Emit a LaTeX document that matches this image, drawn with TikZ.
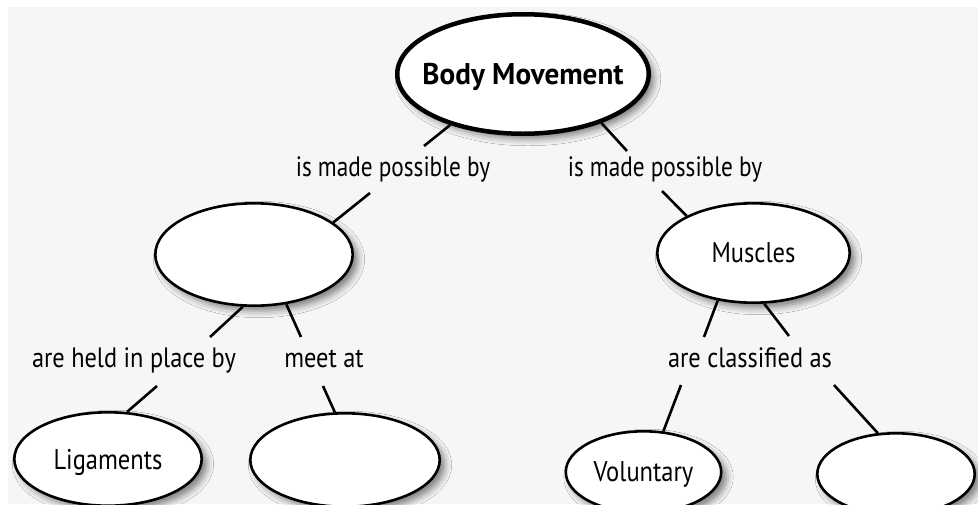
\documentclass[tikz,border=0pt]{standalone}
\usepackage{fontspec}
\setmainfont{PT Sans}
\newfontfamily\lblfont{PT Sans}[FakeStretch=0.87]
\newfontfamily\lblnarrow{PT Sans}[FakeStretch=0.83]
\newfontfamily\nodefont{PT Sans}[FakeStretch=0.86]
\newfontfamily\ttlfont{PT Sans}[FakeStretch=0.97]
\usetikzlibrary{shapes.geometric,shadows.blur}
\definecolor{bgcol}{HTML}{F6F6F6}
\begin{document}
\begin{tikzpicture}[x=1pt,y=-1pt,
  concept/.style={ellipse, draw=black, line width=2.6pt, fill=white, inner sep=0pt,
    font={\nodefont\fontsize{28.5}{30}\selectfont}, text depth=0pt,
    blur shadow={shadow xshift=5pt, shadow yshift=-5pt, shadow blur radius=7pt, shadow opacity=50}},
  titlenode/.style={concept, line width=4.5pt, font={\ttlfont\bfseries\fontsize{30}{32}\selectfont}},
  linklabel/.style={anchor=base, inner sep=0pt, font={\lblfont\fontsize{28}{30}\selectfont}},
  narrowlabel/.style={linklabel, font={\lblnarrow\fontsize{28}{30}\selectfont}},
  conn/.style={line width=2.6pt, black}]
\useasboundingbox (0,0) rectangle (978,504);
\clip (0,0) rectangle (978,504);
\fill[white] (0,0) rectangle (978,504);
\fill[bgcol] (8,7) rectangle (978,504);

% concept nodes
\node[titlenode, minimum width=251.5pt, minimum height=119.5pt] (body) at (523,74) {\makebox[0pt]{Body Movement}};
\node[concept, minimum width=197.4pt, minimum height=102.4pt] (left) at (254,254.5) {};
\node[concept, minimum width=192.4pt, minimum height=99.4pt] (muscles) at (753.5,253) {\makebox[0pt]{Muscles}};
\node[concept, minimum width=187.4pt, minimum height=93.4pt] (lig) at (108,459) {\makebox[0pt]{Ligaments}};
\node[concept, minimum width=189.4pt, minimum height=93.4pt] (meet) at (345,460) {};
\node[concept, minimum width=155.4pt, minimum height=81.4pt] (vol) at (643.5,472) {\makebox[0pt]{Voluntary}};
\node[concept, minimum width=157.4pt, minimum height=81.4pt] (right) at (896,474) {};

% linking labels
\node[narrowlabel] (l1) at (393,176) {is made possible by};
\node[narrowlabel] (r1) at (665,176) {is made possible by};
\node[linklabel] (l2) at (134,367) {are held in place by};
\node[linklabel] (l3) at (324,367) {meet at};
\node[linklabel] (l4) at (750,367) {are classified as};

% connector ends near labels
\coordinate (l1a) at (424,146);
\coordinate (l1b) at (370,193);
\coordinate (r1a) at (627,151);
\coordinate (r1b) at (662,191);
\coordinate (l2a) at (210,337);
\coordinate (l2b) at (157,386);
\coordinate (l3a) at (301,337);
\coordinate (l3b) at (323,386);
\coordinate (l4a) at (704,337);
\coordinate (l4b) at (789,336);
\coordinate (l4c) at (681,385);
\coordinate (l4d) at (834,385);

% connectors
\draw[conn] (body.215) -- (l1a);
\draw[conn] (l1b) -- (left.22);
\draw[conn] (body.328) -- (r1a);
\draw[conn] (r1b) -- (muscles.151);
\draw[conn] (left.258) -- (l2a);
\draw[conn] (left.303) -- (l3a);
\draw[conn] (l2b) -- (lig.68);
\draw[conn] (l3b) -- (meet.102);
\draw[conn] (muscles.233) -- (l4a);
\draw[conn] (muscles.282) -- (l4b);
\draw[conn] (l4c) -- (vol.64);
\draw[conn] (l4d) -- (right.114);
\end{tikzpicture}
\end{document}
